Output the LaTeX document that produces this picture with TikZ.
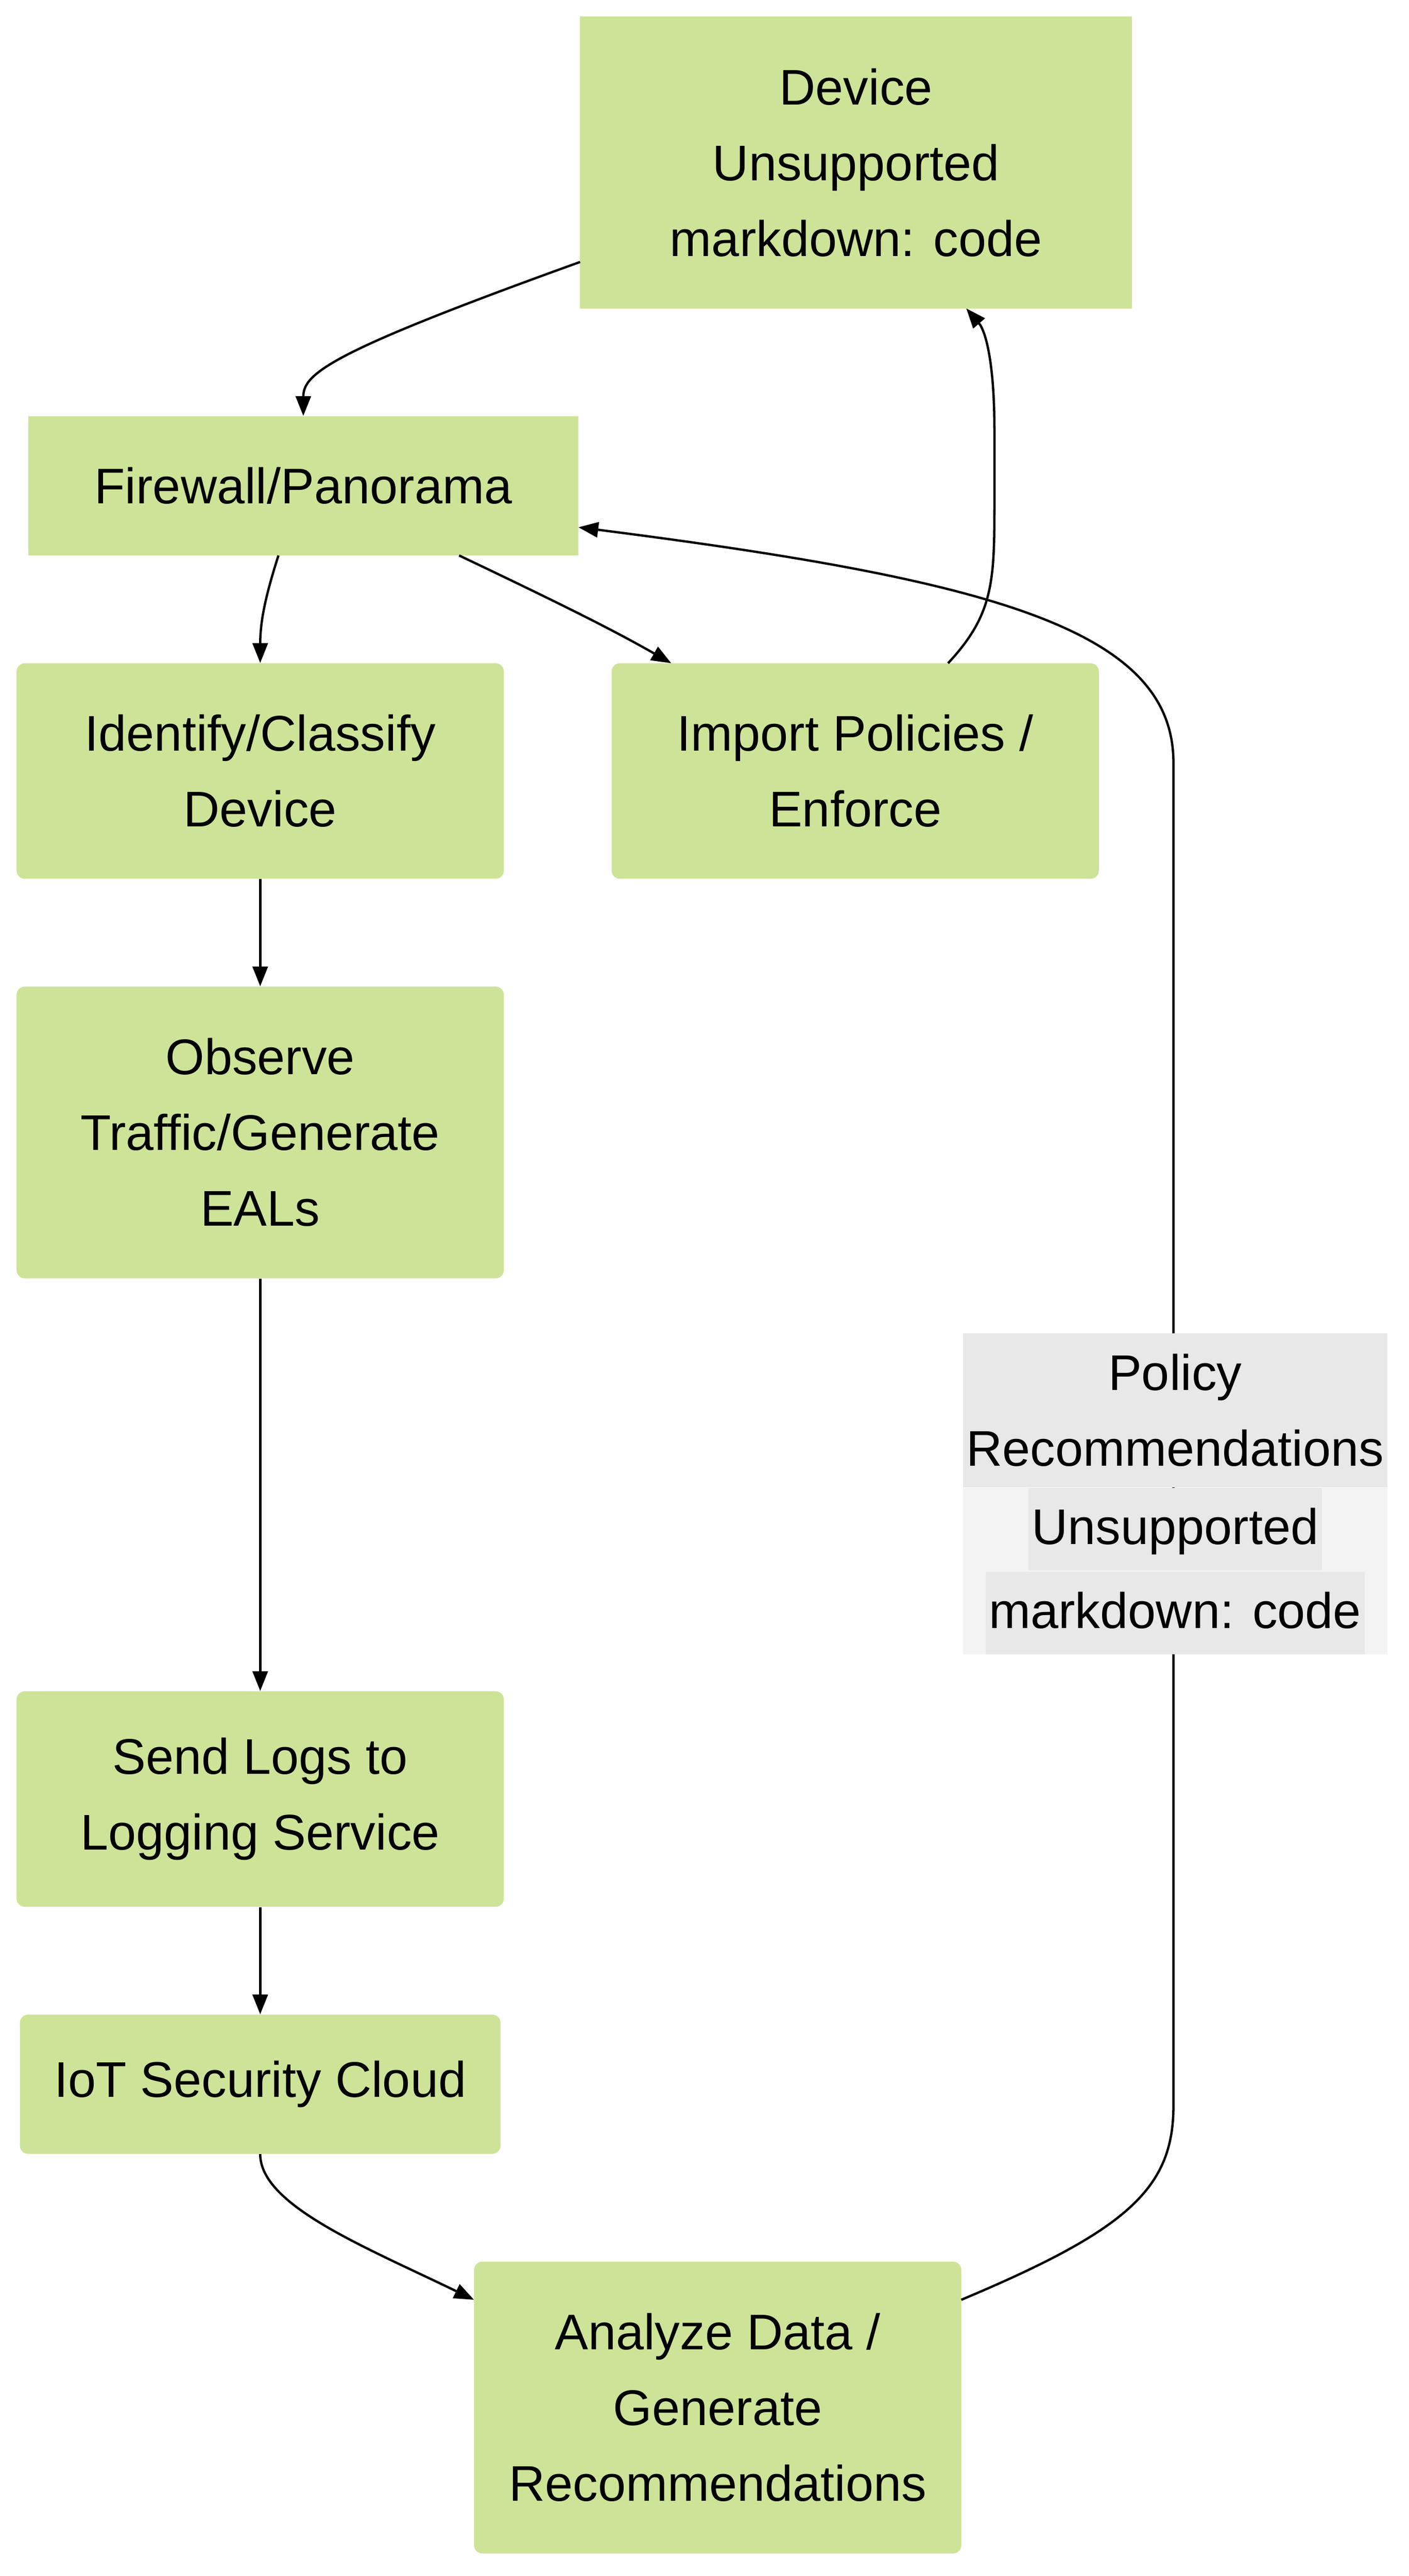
\documentclass[tikz,border=0pt]{standalone}
\usepackage{fontspec}
\setmainfont{Liberation Sans}
\usetikzlibrary{calc, positioning, arrows.meta}
\definecolor{boxgreen}{HTML}{CDE498}
\definecolor{lblgray}{HTML}{E8E8E8}
\definecolor{lblpale}{HTML}{F3F3F3}
\tikzset{
  box/.style={fill=boxgreen, draw=none, align=center, inner sep=0pt,
    font=\fontsize{43}{65}\selectfont},
  rbox/.style={box, rounded corners=0.25cm},
  flow/.style={draw, line width=2pt, -{Triangle[length=17pt,width=13pt]}}
}
\begin{document}
\begin{tikzpicture}[x=0.05cm, y=-0.05cm]
        \useasboundingbox[fill=white] (0,0) rectangle (850,1553.6);
        \node[box, minimum width=333*0.05cm, minimum height=176*0.05cm](device) at (516.5,98) {Device\\Unsupported\\markdown: code};
        \node[box, minimum width=332*0.05cm, minimum height=84*0.05cm](firewall) at (183,293) {Firewall/Panorama};
        \node[rbox, minimum width=294*0.05cm, minimum height=130*0.05cm](identify) at (157,465) {Identify/Classify\\Device};
        \node[rbox, minimum width=294*0.05cm, minimum height=130*0.05cm](import) at (516,465) {Import Policies /\\Enforce};
        \node[rbox, minimum width=294*0.05cm, minimum height=176*0.05cm](observe) at (157,683) {Observe\\Traffic/Generate\\EALs};
        \node[rbox, minimum width=294*0.05cm, minimum height=130*0.05cm](sendlogs) at (157,1085) {Send Logs to\\Logging Service};
        \node[rbox, minimum width=290*0.05cm, minimum height=84*0.05cm](iotcloud) at (157,1257) {IoT Security Cloud};
        \node[rbox, minimum width=294*0.05cm, minimum height=176*0.05cm](analyze) at (433,1452) {Analyze Data /\\Generate\\Recommendations};

        \coordinate (devleft) at (350,158);
        \coordinate (fwleft) at (168,335);
        \coordinate (fwright) at (277,335);
        \coordinate (imptop) at (572,400);
        \coordinate (devbot) at (583,186);
        \coordinate (anright) at (580,1387);
        \coordinate (anleft) at (286,1387);
        \coordinate (impleft) at (405,400);
        \coordinate (fwend) at (349,318);

        \path[flow] (devleft) .. controls (200,212) and (183,225) .. (firewall.north);
        \path[flow] (fwleft) .. controls (160,360) and (157,375) .. (identify.north);
        \path[flow] (fwright) .. controls (340,365) and (370,380) .. (impleft);
        \path[flow] (imptop) .. controls (600,370) and (600,350) .. (600,300) -- (600,260) .. controls (600,220) and (595,200) .. (devbot);
        \path[flow] (identify) -- (observe);
        \path[flow] (observe) -- (sendlogs);
        \path[flow] (sendlogs) -- (iotcloud);
        \path[flow] (iotcloud.south) .. controls (157,1330) and (220,1355) .. (anleft);
        \path[flow] (anright) .. controls (680,1345) and (708,1320) .. (708,1270) -- (708,460) .. controls (708,380) and (600,350) .. (fwend);

        \node[box, fill=lblgray, minimum width=256*0.05cm, minimum height=93*0.05cm](policy) at (709,850.5) {Policy\\Recommendations};
        \node[box, fill=lblpale, minimum width=256*0.05cm, minimum height=90*0.05cm](policycode) [below = 0pt of policy] {\colorbox{lblgray}{Unsupported\strut}\\\colorbox{lblgray}{markdown: code\strut}};
\end{tikzpicture}
\end{document}
